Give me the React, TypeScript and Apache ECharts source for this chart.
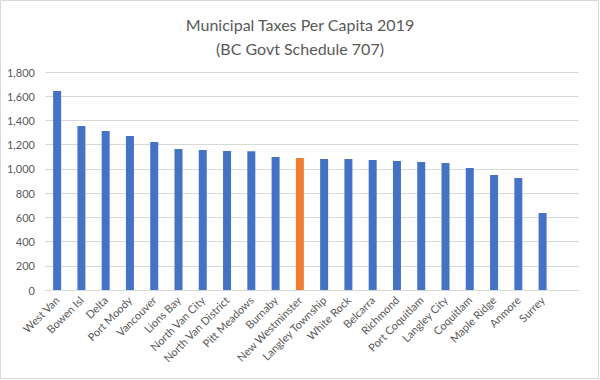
import React, { useEffect, useRef } from "react";
import * as echarts from "echarts";

const categories = [
  "West Van", "Bowen Isl", "Delta", "Port Moody", "Vancouver", "Lions Bay",
  "North Van City", "North Van District", "Pitt Meadows", "Burnaby",
  "New Westminster", "Langley Township", "White Rock", "Belcarra", "Richmond",
  "Port Coquitlam", "Langley City", "Coquitlam", "Maple Ridge", "Anmore", "Surrey", "",
];
const values = [
  1643, 1354, 1313, 1272, 1222, 1164, 1156, 1148, 1146, 1098,
  1090, 1082, 1081, 1073, 1065, 1057, 1049, 1007, 950, 925, 636, null,
];
const highlighted = "New Westminster";
const yTicks = { min: 0, max: 1800, interval: 200 };
const titleText = "Municipal Taxes Per Capita 2019\n(BC Govt Schedule 707)";

export default function App() {
  const ref = useRef<HTMLDivElement>(null);
  useEffect(() => {
    if (!ref.current) return;
    const chart = echarts.init(ref.current, null, { renderer: "svg" });
    const gray = "#595959";
    chart.setOption({
      animation: false,
      backgroundColor: "#ffffff",
      title: {
        text: titleText,
        left: "center",
        top: 7,
        textStyle: {
          fontFamily: "Lato",
          fontSize: 16,
          fontWeight: "normal",
          color: gray,
          lineHeight: 24,
        },
      },
      graphic: [
        {
          type: "rect",
          shape: { x: 0.5, y: 0.5, width: 598, height: 378 },
          style: { fill: "none", stroke: "#d9d9d9", lineWidth: 1 },
          silent: true,
        },
      ],
      grid: { left: 45, right: 21, top: 72, bottom: 90, containLabel: false },
      xAxis: {
        type: "category",
        data: categories,
        axisLine: { show: true, lineStyle: { color: "#d9d9d9" } },
        axisTick: { show: false },
        axisLabel: {
          interval: 0,
          rotate: 45,
          margin: 8,
          color: gray,
          fontFamily: "Lato",
          fontSize: 11,
        },
      },
      yAxis: {
        type: "value",
        min: yTicks.min,
        max: yTicks.max,
        interval: yTicks.interval,
        axisLine: { show: false },
        axisTick: { show: false },
        splitLine: { lineStyle: { color: "#d9d9d9" } },
        axisLabel: {
          margin: 10,
          color: gray,
          fontFamily: "Lato",
          fontSize: 11,
          formatter: (v: number) => v.toLocaleString("en-US"),
        },
      },
      series: [
        {
          type: "bar",
          barWidth: 8,
          data: values.map((v, i) => ({
            value: v,
            itemStyle: { color: categories[i] === highlighted ? "#ED7D31" : "#4472C4" },
          })),
        },
      ],
    });
    return () => chart.dispose();
  }, []);
  return (
    <div
      ref={ref}
      style={{ position: "fixed", left: 0, top: 0, width: 600, height: 380 }}
    />
  );
}
